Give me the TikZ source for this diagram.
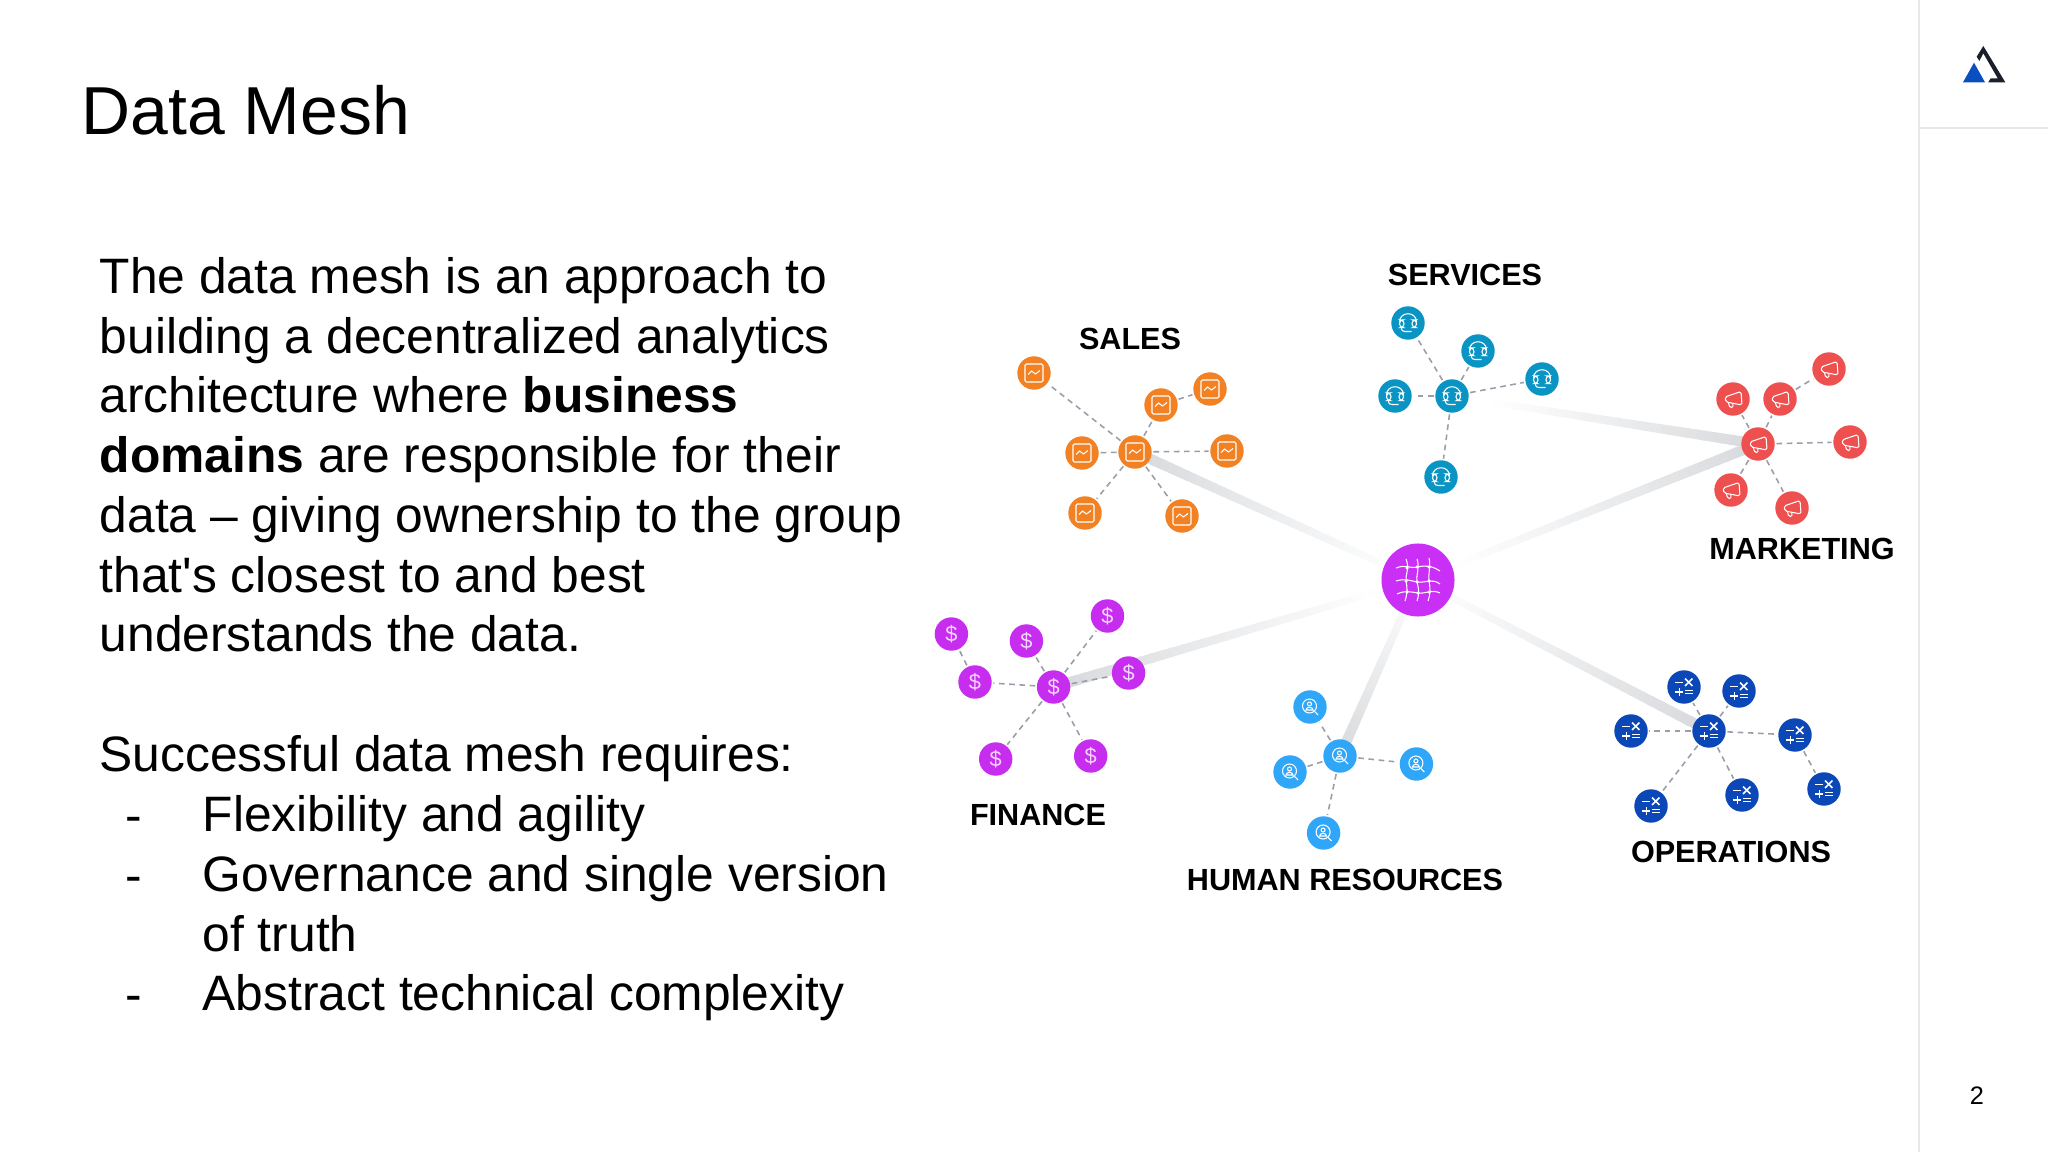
\documentclass[tikz,border=0pt]{standalone}
\usepackage{fontspec}
\setmainfont[Ligatures=TeXOff]{Liberation Sans}
\usepackage{xcolor}
\usetikzlibrary{calc, backgrounds}

\definecolor{salesorange}{HTML}{F28124}
\definecolor{serviceteal}{HTML}{0A94C4}
\definecolor{marketred}{HTML}{EE5050}
\definecolor{financepurple}{HTML}{C62DEE}
\definecolor{hrblue}{HTML}{2FA6F8}
\definecolor{opsnavy}{HTML}{0B47B6}
\definecolor{meshpurple}{HTML}{C92FF5}
\definecolor{linkgray}{HTML}{D8DADD}
\definecolor{dashgray}{HTML}{9A9EA8}
\definecolor{framegray}{HTML}{E8E8E8}
\definecolor{logodark}{HTML}{1A1F2B}
\definecolor{logoblue}{HTML}{0A4FC0}

% icons, drawn in pixels round the middle of a dot
\newcommand{\charticon}{
    \draw[icon, rounded corners=0.4pt] (-9,-9) rectangle (9,9);
    \draw[icon] (-6,1.5) -- (-2.5,-2) -- (1.5,1) -- (6,-2.5);
}
\newcommand{\headseticon}{
    \draw[icon] (-8.5,-1) .. controls (-8.5,-12) and (8.5,-12) .. (8.5,-1);
    \draw[icon, rounded corners=1pt] (-8.5,-3) rectangle (-4,4.5);
    \draw[icon, rounded corners=1pt] (4,-3) rectangle (8.5,4.5);
    \draw[icon] (-6.5,4.5) .. controls (-6.5,8) and (-5,8.5) .. (-3,8.5) -- (3.5,8.5);
}
\newcommand{\megaphoneicon}{
    \draw[icon, rounded corners=0.5pt] (8,-7.5) -- (9,6) -- (-7,3) -- (-8,-2) -- cycle;
    \draw[icon] (-4.5,3.5) .. controls (-4,10) and (1,10) .. (0,4.5);
}
\newcommand{\searchicon}{
    \draw[icon] (-0.5,-1) circle (7);
    \draw[icon] (-0.5,-3) circle (2);
    \draw[icon] (-4,3) .. controls (-4,-0.5) and (3,-0.5) .. (3,3) -- cycle;
    \draw[icon] (4.5,4.5) -- (8,8);
}
\newcommand{\mathicon}{
    \draw[icon, line width=0.45pt] (-8.7,-4.7) -- (-1,-4.7);
    \draw[icon, line width=0.45pt] (1,-8.4) -- (8.4,-1);
    \draw[icon, line width=0.45pt] (1,-1) -- (8.4,-8.4);
    \draw[icon, line width=0.45pt] (-8.7,5) -- (-0.7,5);
    \draw[icon, line width=0.45pt] (-4.7,1) -- (-4.7,9);
    \draw[icon, line width=0.45pt] (1.3,3.5) -- (9,3.5);
    \draw[icon, line width=0.45pt] (1.3,6.7) -- (9,6.7);
}
\newcommand{\meshicon}{
    \draw[icon] (-22,-12) .. controls (-12,-16) and (-8,-11) .. (0,-13) .. controls (8,-15) and (14,-14) .. (22,-9);
    \draw[icon] (-22,1) .. controls (-12,-2) and (-8,1) .. (0,2) .. controls (8,3) and (14,-2) .. (22,4);
    \draw[icon] (-21,14) .. controls (-12,10) and (-8,12) .. (0,13) .. controls (8,14) and (14,9) .. (22,13);
    \draw[icon] (-12,-21) .. controls (-8,-12) and (-13,-4) .. (-12,1) .. controls (-11,6) and (-10,12) .. (-13,21);
    \draw[icon] (-1,-21) .. controls (2,-12) and (-2,-6) .. (-1,2) .. controls (0,6) and (2,12) .. (-1,21);
    \draw[icon] (11,-22) .. controls (13,-14) and (10,-6) .. (11,1) .. controls (12,6) and (13,14) .. (10,21);
    \draw[icon] (-11,-12) circle (1) (-1,-13) circle (1) (11,-13) circle (1);
    \draw[icon] (-12,1) circle (1) (-1,2) circle (1) (11,1) circle (1);
    \draw[icon] (-11,12) circle (1) (0,13) circle (1) (11,12) circle (1);
}
% fading bar from a dark end #1 towards #2, gone after the fraction #3
\newcommand{\meshlink}[3]{
    \foreach \i in {0,...,29}{
        \pgfmathsetmacro{\tstart}{#3*\i/30}
        \pgfmathsetmacro{\tend}{#3*(\i+1.3)/30}
        \pgfmathsetmacro{\tint}{100*(1-\i/30)}
        \pgfmathsetmacro{\twidth}{(10.5-4*\i/30)*0.2845}
        \draw[line width=\twidth pt, color=linkgray!\tint!white] ($(#1)!\tstart!(#2)$) -- ($(#1)!\tend!(#2)$);
    }
}

\begin{document}
\begin{tikzpicture}[
        x=0.01cm, y=-0.01cm,
        icon/.style={draw=white, line width=0.3pt, fill=none},
        dot/.style={circle, minimum size=0.334cm, inner sep=0pt, outer sep=0.5pt, text=white},
        salesdot/.style={dot, fill=salesorange, path picture={\begin{scope}[shift={(path picture bounding box.center)}]\charticon\end{scope}}},
        servicedot/.style={dot, fill=serviceteal, path picture={\begin{scope}[shift={(path picture bounding box.center)}]\headseticon\end{scope}}},
        marketdot/.style={dot, fill=marketred, path picture={\begin{scope}[shift={(path picture bounding box.center)}]\megaphoneicon\end{scope}}},
        financedot/.style={dot, fill=financepurple, text=white!80!financepurple, font=\fontsize{6.2}{6.2}\selectfont},
        hrdot/.style={dot, fill=hrblue, path picture={\begin{scope}[shift={(path picture bounding box.center)}]\searchicon\end{scope}}},
        opsdot/.style={dot, fill=opsnavy, path picture={\begin{scope}[shift={(path picture bounding box.center)}]\mathicon\end{scope}}},
        meshhub/.style={circle, minimum size=0.73cm, inner sep=0pt, fill=meshpurple, path picture={\begin{scope}[shift={(path picture bounding box.center)}]\meshicon\end{scope}}},
        dashlink/.style={draw=dashgray, line width=0.45pt, dash pattern=on 1.6pt off 1.3pt},
        domainlabel/.style={font=\fontsize{8.7}{10}\selectfont\bfseries, text=black, inner sep=0pt},
        bodytext/.style={font=\fontsize{14.15}{17}\selectfont, align=left, anchor=north west, inner sep=0pt},
        dashmark/.style={bodytext, text height=10.35pt},
        frameline/.style={draw=framegray, line width=0.55pt}
    ]
    \useasboundingbox (0,0) rectangle (2048,1152);

    % ============ SIDE FRAME ============
    \coordinate (frametop) at (1919,0);
    \coordinate (framebottom) at (1919,1152);
    \coordinate (frameleft) at (1919,128);
    \coordinate (frameright) at (2048,128);
    \draw[frameline] (frametop) -- (framebottom);
    \draw[frameline] (frameleft) -- (frameright);
    \fill[logoblue] (1963,82.3) -- (1985,82.3) -- (1974,62.7) -- cycle;
    \fill[logodark] (1983.3,46) -- (2005.3,82.3) -- (1988.3,82.3) -- (1990.7,78.3) -- (1997.7,78.3) -- (1983.3,53.3) -- (1979.3,61) -- (1976.7,56.7) -- cycle;
    \node[font=\fontsize{7.2}{9}\selectfont, inner sep=0pt] (pagenum) at (1977,1096) {2};

    % ============ TEXT ============
    \node[font=\fontsize{19.3}{23}\selectfont, anchor=west, inner sep=0pt] (title) at (81,110) {Data Mesh};

    \node[bodytext] (intro) at (99,256.5) {The data mesh is an approach to\\
    building a decentralized analytics\\
    architecture where \textbf{business}\\
    \textbf{domains} are responsible for their\\
    data – giving ownership to the group\\
    that's closest to and best\\
    understands the data.\\[17pt]
    Successful data mesh requires:};

    \node[dashmark] (dashone) at (125,795) {-};
    \node[bodytext] (itemone) at (202,795) {Flexibility and agility};
    \node[dashmark] (dashtwo) at (125,855) {-};
    \node[bodytext] (itemtwo) at (202,855) {Governance and single version\\of truth};
    \node[dashmark] (dashthree) at (125,974) {-};
    \node[bodytext] (itemthree) at (202,974) {Abstract technical complexity};

    % ============ MESH CENTRE ============
    \node[meshhub] (mesh) at (1418,580) {};

    % ============ SALES ============
    \node[salesdot] (salhub) at (1135,452) {};
    \node[salesdot] (salone) at (1034,373) {};
    \node[salesdot] (saltwo) at (1161,405) {};
    \node[salesdot] (salthree) at (1210,389) {};
    \node[salesdot] (salfour) at (1082,453) {};
    \node[salesdot] (salfive) at (1227,451) {};
    \node[salesdot] (salsix) at (1085,513) {};
    \node[salesdot] (salseven) at (1182,516) {};
    \node[domainlabel] (sallabel) at (1130,339) {SALES};

    % ============ SERVICES ============
    \node[servicedot] (serhub) at (1452,396) {};
    \node[servicedot] (serone) at (1408,323) {};
    \node[servicedot] (sertwo) at (1478,351) {};
    \node[servicedot] (serthree) at (1542,379) {};
    \node[servicedot] (serfour) at (1395,396) {};
    \node[servicedot] (serfive) at (1441,477) {};
    \node[domainlabel] (serlabel) at (1465,275) {SERVICES};

    % ============ MARKETING ============
    \node[marketdot] (markhub) at (1758,444) {};
    \node[marketdot] (markone) at (1733,399) {};
    \node[marketdot] (marktwo) at (1780,399) {};
    \node[marketdot] (markthree) at (1829,369) {};
    \node[marketdot] (markfour) at (1850,442) {};
    \node[marketdot] (markfive) at (1731,490) {};
    \node[marketdot] (marksix) at (1792,508) {};
    \node[domainlabel] (marklabel) at (1802,549) {MARKETING};

    % ============ FINANCE ============
    \node[financedot] (finhub) at (1053.6,687) {\$};
    \node[financedot] (finone) at (951.4,634) {\$};
    \node[financedot] (fintwo) at (1026.4,641) {\$};
    \node[financedot] (finthree) at (1107.5,616) {\$};
    \node[financedot] (finfour) at (975,682) {\$};
    \node[financedot] (finfive) at (1128.6,673) {\$};
    \node[financedot] (finsix) at (995.7,759) {\$};
    \node[financedot] (finseven) at (1090.7,756) {\$};
    \node[domainlabel] (finlabel) at (1038,815) {FINANCE};

    % ============ HUMAN RESOURCES ============
    \node[hrdot] (hrhub) at (1340,756) {};
    \node[hrdot] (hrone) at (1310,707) {};
    \node[hrdot] (hrtwo) at (1290,772) {};
    \node[hrdot] (hrthree) at (1416.4,764) {};
    \node[hrdot] (hrfour) at (1323.6,833) {};
    \node[domainlabel] (hrlabel) at (1345,880) {HUMAN RESOURCES};

    % ============ OPERATIONS ============
    \node[opsdot] (opshub) at (1709,731) {};
    \node[opsdot] (opsone) at (1684,687) {};
    \node[opsdot] (opstwo) at (1739,691) {};
    \node[opsdot] (opsthree) at (1631,731) {};
    \node[opsdot] (opsfour) at (1795,735) {};
    \node[opsdot] (opsfive) at (1824,789) {};
    \node[opsdot] (opssix) at (1742,795) {};
    \node[opsdot] (opsseven) at (1651,806) {};
    \node[domainlabel] (opslabel) at (1731,852) {OPERATIONS};

    % ============ DOMAIN LINKS ============
    \begin{scope}[on background layer]
        \meshlink{salhub}{mesh}{0.92}
        \meshlink{markhub}{serhub}{0.86}
        \meshlink{markhub}{mesh}{0.88}
        \meshlink{finhub}{mesh}{0.88}
        \meshlink{hrhub}{mesh}{0.97}
        \meshlink{opshub}{mesh}{0.97}
    \end{scope}

    % ============ DASHED LINKS ============
    % Sales
    \draw[dashlink] (salhub) -- (salone);
    \draw[dashlink] (salhub) -- (saltwo);
    \draw[dashlink] (saltwo) -- (salthree);
    \draw[dashlink] (salhub) -- (salfour);
    \draw[dashlink] (salhub) -- (salfive);
    \draw[dashlink] (salhub) -- (salsix);
    \draw[dashlink] (salhub) -- (salseven);

    % Services
    \draw[dashlink] (serhub) -- (serone);
    \draw[dashlink] (serhub) -- (sertwo);
    \draw[dashlink] (serhub) -- (serthree);
    \draw[dashlink] (serhub) -- (serfour);
    \draw[dashlink] (serhub) -- (serfive);

    % Marketing
    \draw[dashlink] (markhub) -- (markone);
    \draw[dashlink] (markhub) -- (marktwo);
    \draw[dashlink] (marktwo) -- (markthree);
    \draw[dashlink] (markhub) -- (markfour);
    \draw[dashlink] (markhub) -- (markfive);
    \draw[dashlink] (markhub) -- (marksix);

    % Finance
    \draw[dashlink] (finhub) -- (fintwo);
    \draw[dashlink] (finhub) -- (finthree);
    \draw[dashlink] (finhub) -- (finfour);
    \draw[dashlink] (finfour) -- (finone);
    \draw[dashlink] (finhub) -- (finfive);
    \draw[dashlink] (finhub) -- (finsix);
    \draw[dashlink] (finhub) -- (finseven);

    % Human resources
    \draw[dashlink] (hrhub) -- (hrone);
    \draw[dashlink] (hrhub) -- (hrtwo);
    \draw[dashlink] (hrhub) -- (hrthree);
    \draw[dashlink] (hrhub) -- (hrfour);

    % Operations
    \draw[dashlink] (opshub) -- (opsone);
    \draw[dashlink] (opshub) -- (opstwo);
    \draw[dashlink] (opshub) -- (opsthree);
    \draw[dashlink] (opshub) -- (opsfour);
    \draw[dashlink] (opsfour) -- (opsfive);
    \draw[dashlink] (opshub) -- (opssix);
    \draw[dashlink] (opshub) -- (opsseven);

\end{tikzpicture}
\end{document}
